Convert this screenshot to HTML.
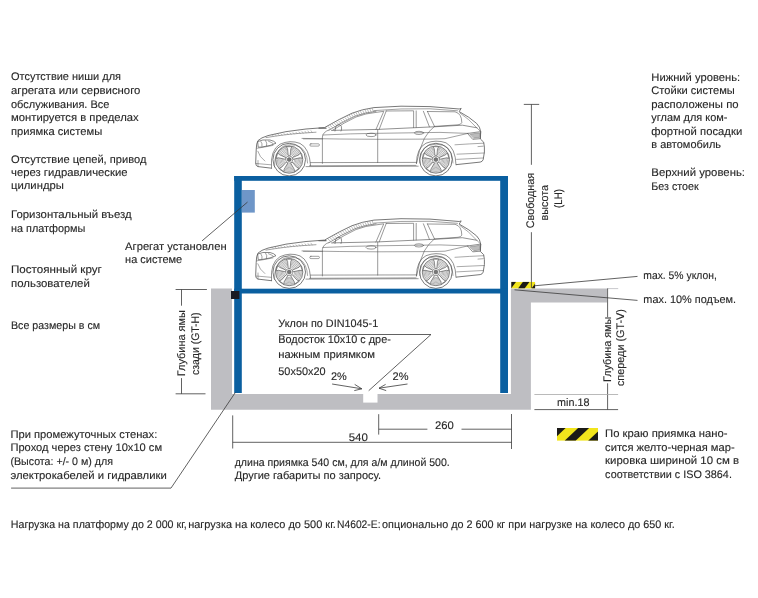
<!DOCTYPE html>
<html><head><meta charset="utf-8"><title>Parking system</title>
<style>
html,body{margin:0;padding:0;background:#fff;}
body{width:758px;height:598px;overflow:hidden;font-family:"Liberation Sans",sans-serif;}
svg{display:block;will-change:transform;} text{text-rendering:geometricPrecision;}
</style></head><body>
<svg width="758" height="598" viewBox="0 0 758 598">
<defs>
<g id="car"><g fill="none" stroke="#555" stroke-width="0.8" stroke-linejoin="round" stroke-linecap="round">
<path d="M271.5,168.2 L258,166.6 Q255.6,166 255.7,163 L256.2,150 Q256.3,143 258,140.6 Q261,137.6 268,135.6 Q285,131 306,129 L324.5,127.6 Q340,118.6 352,113.2 Q362,109.2 374,107.6 Q400,105.3 430,106.6 L459.2,109 L461.2,108.4 L459.2,111.6 Q469.5,117 476.6,123.4 Q480.2,127 480.7,131.6 L480.4,139 L483.7,142.2 Q484.7,147 484.4,152 L483.2,159.6 Q482.4,161.8 480.2,162.1 L456.4,164.6"/>
<path d="M374,110.6 Q400,108.2 430,108.8 L457.5,110.8" stroke-width="0.55"/>
<path d="M329,130.2 Q342,122 355,116.2 Q365,112.4 376,111.3" stroke-width="0.6"/>
<path d="M328.0,126.6 L330.7,128.9 M330.2,125.5 L332.8,127.8 M332.3,124.3 L334.8,126.7 M334.4,123.2 L336.9,125.6 M336.5,122.1 L338.9,124.5 M338.7,121.0 L341.0,123.4 M340.8,119.8 L343.0,122.3 M342.9,118.7 L345.1,121.2 M345.0,117.6 L347.1,120.1 M347.2,116.5 L349.1,119.0 M349.3,115.3 L351.2,117.9 M351.4,114.2 L353.2,116.8 M353.6,113.3 L355.3,115.8 M356.0,112.7 L357.6,115.3 M358.3,112.2 L359.9,114.8 M360.6,111.6 L362.1,114.3 M362.9,111.0 L364.4,113.7 M365.3,110.4 L366.7,113.2 M367.6,109.8 L368.9,112.7 M369.9,109.2 L371.2,112.2 M372.3,108.6 L373.4,111.6" stroke-width="0.45" stroke="#6a6a6a"/>
<path d="M333,130 Q344,122.6 356,117 Q366,113.2 376,112.4 L383.8,111.3 L375.9,129.6" stroke-width="0.6"/>
<path d="M386.2,111 L413.6,110.8 L413.6,127.6 M386.2,111 L379.2,129.4 M416.2,110.9 L416.2,127.4" stroke-width="0.6"/>
<path d="M423.4,111.3 L429.4,126.8 M427.4,111.4 L434.6,126.6" stroke-width="0.6"/>
<path d="M427.4,111.5 L455,111.8 Q461.8,113.5 461.8,122.6 Q461,124.6 458,124.8 L434.6,126.4" stroke-width="0.6"/>
<path d="M459.7,112.8 Q469,119 476,127 L480.4,131.4" stroke-width="0.5"/>
<path d="M331.5,130.4 L378,129.4 L434,126.8 L462.3,125.2 L477,127.8" stroke-width="0.65"/>
<path d="M323,135 Q350,133.6 378,133.3 L440,132.4 L467.9,133.4" stroke-width="0.55"/>
<path d="M302,138.4 Q340,139.2 378,139.3 L430,139.1 L445,138.7 L467.9,133.4" stroke-width="0.55"/>
<path d="M329.2,129.8 Q322.8,132 322.4,137 L322.4,163.4" stroke-width="0.6"/>
<path d="M377.7,129.6 L377.7,162.6" stroke-width="0.6"/>
<path d="M434,126.8 Q428.6,131 424.4,138.4 Q418.6,150 416.6,163" stroke-width="0.6"/>
<ellipse cx="371" cy="134.9" rx="5" ry="1.7" stroke-width="0.6"/>
<ellipse cx="419" cy="132.9" rx="4.6" ry="1.6" stroke-width="0.6"/>
<path d="M335,131 L335.8,126.6 Q337,124.6 340,124.8 Q341.8,125.4 341.6,129 L341,131" stroke-width="0.65"/>
<path d="M310.5,162.6 L416.5,162.4 M309.5,165.8 L416,165.4 M306,166.6 L418.2,166.2" stroke-width="0.6"/>
<path d="M303.5,138.9 L322.4,138.9" stroke-width="0.5"/>
<rect x="309.8" y="143.8" width="9.6" height="2.3" rx="1.1" stroke-width="0.55"/>
<path d="M258,141.4 Q262,139.2 270,140 Q274.5,141 276,143.2 Q271,145.8 262,147 L258.6,147.2 Z" stroke-width="0.7"/>
<path d="M261,141.6 Q262.6,143.5 262,146.2 M265.6,140.6 Q267.5,143 266.6,145.8 M268.5,141.2 Q272,142.5 273.2,143.6" stroke-width="0.55"/>
<path d="M266,137.6 Q285,134.4 300,133.3 L316,132.2" stroke-width="0.55"/>
<path d="M272.0,134.8 L273.2,135.9 M275.0,134.5 L276.2,135.6 M278.0,134.2 L279.2,135.4 M281.0,133.9 L282.2,135.1 M284.0,133.5 L285.2,134.8 M287.0,133.2 L288.2,134.5 M290.0,132.9 L291.2,134.3 M293.0,132.6 L294.2,134.0 M296.0,132.3 L297.2,133.7 M299.0,132.0 L300.2,133.5 M302.0,131.6 L303.2,133.2 M305.0,131.3 L306.2,132.9 M308.0,131.0 L309.2,132.7 M311.0,130.7 L312.2,132.4" stroke-width="0.45" stroke="#777"/>
<path d="M319,128.2 L326,128.2" stroke-width="1.2" stroke="#666"/>
<path d="M257,148.3 Q265,147 273,145.4 M257.8,151.3 Q259.5,157 264.8,161 M256,163.5 L271,164.8 M258,166.6 L258,160.5" stroke-width="0.5"/>
<path d="M467.9,133.4 L480.7,131.6 L480.2,138.7 L473.1,139.3 Z" stroke-width="0.65"/>
<path d="M470,134.2 L479.6,132.8 L479.4,137.6 L474,138.2 Z" stroke-width="0.4" fill="#bbb"/>
<path d="M455,144.8 Q470,143.8 483.6,143.2 M457,154.2 L484.2,153 M478,146.6 L483.2,146.2 M456.6,159.4 L483,158" stroke-width="0.5"/>
<path d="M271.5,168.2 Q270,150 280,144.2 Q290,139.6 300,143.4 Q309.4,148 310.6,165.6" stroke-width="0.65"/>
<path d="M274.5,167 Q274,152 283,146.4 Q291,143 299.5,146.6 Q307,151 307.6,163" stroke-width="0.5"/>
<path d="M416.4,163.6 Q416.6,148 426,143.2 Q436,139.3 446,142.8 Q455.6,148 456,164.8" stroke-width="0.65"/>
<path d="M419.6,163 Q420,150 428,145.6 Q436,142.6 444.6,145.6 Q452.6,150 453,163" stroke-width="0.5"/>
</g>
<defs>
<g id="wheel">
<circle r="16.3" stroke-width="0.8"/>
<circle r="13.6" stroke-width="0.75"/>
<circle r="12.9" stroke-width="0.4" stroke="#888"/>
<g stroke="#6a6a6a" stroke-width="0.5"><circle r="11.90"/><circle r="10.60"/><circle r="9.30"/><circle r="8.00"/><circle r="6.70"/><circle r="5.40"/></g>
<g fill="#fff" stroke-width="0.6">
<path id="spk" d="M-0.9,-3.6 L-1.6,-10.8 L-2.8,-12.9 L2.8,-12.9 L1.6,-10.8 L0.9,-3.6 Z"/>
<use href="#spk" transform="rotate(72)"/>
<use href="#spk" transform="rotate(144)"/>
<use href="#spk" transform="rotate(216)"/>
<use href="#spk" transform="rotate(288)"/>
</g>
<circle r="3.6" stroke-width="0.6" fill="#fff"/>
<circle r="2" stroke-width="0.5" fill="#777"/>
</g>
</defs>
<g fill="none" stroke="#555">
<use href="#wheel" transform="translate(289.2,159.6)"/>
<use href="#wheel" transform="translate(435.9,159.6)"/>
</g></g>
</defs>
<!-- gray pit -->
<path d="M211,288.6 H232 V394 H510.9 V288.6 H607 V302.6 H530.9 V409.7 H211 Z" fill="#bebec2"/>
<rect x="607" y="288.1" width="11.2" height="1" fill="#c8c8cc"/>
<rect x="363.2" y="393" width="14.3" height="9.6" fill="#fff"/>
<!-- cars -->
<use href="#car"/>
<use href="#car" transform="translate(0,112.5)"/>
<!-- blue frame -->
<g fill="#0a5fa0">
<rect x="234.2" y="176" width="273.8" height="4.8"/>
<rect x="234.2" y="176" width="7.6" height="217"/>
<rect x="500.2" y="176" width="7.8" height="217"/>
<rect x="234.2" y="288.7" width="273.8" height="4.8"/>
</g>
<rect x="242" y="190" width="12.8" height="22.6" fill="#6e96c8"/>
<rect x="231" y="291" width="8.4" height="8" fill="#1a1a22"/>
<!-- hazard stripes -->
<clipPath id="hz1"><rect x="511.3" y="281.8" width="23.80000000000001" height="6.800000000000011"/></clipPath><g clip-path="url(#hz1)"><rect x="511.3" y="281.8" width="23.80000000000001" height="6.800000000000011" fill="#f2e51c"/><polygon points="477.50,288.60 484.10,288.60 489.10,281.80 482.50,281.80" fill="#1b1a17"/><polygon points="491.00,288.60 497.60,288.60 502.60,281.80 496.00,281.80" fill="#1b1a17"/><polygon points="504.50,288.60 511.10,288.60 516.10,281.80 509.50,281.80" fill="#1b1a17"/><polygon points="518.00,288.60 524.60,288.60 529.60,281.80 523.00,281.80" fill="#1b1a17"/><polygon points="531.50,288.60 538.10,288.60 543.10,281.80 536.50,281.80" fill="#1b1a17"/></g>
<clipPath id="hz2"><rect x="557" y="428" width="41" height="12.800000000000011"/></clipPath><g clip-path="url(#hz2)"><rect x="557" y="428" width="41" height="12.800000000000011" fill="#f2e51c"/><polygon points="494.10,440.80 505.10,440.80 518.60,428.00 507.60,428.00" fill="#1b1a17"/><polygon points="517.60,440.80 528.60,440.80 542.10,428.00 531.10,428.00" fill="#1b1a17"/><polygon points="541.10,440.80 552.10,440.80 565.60,428.00 554.60,428.00" fill="#1b1a17"/><polygon points="564.60,440.80 575.60,440.80 589.10,428.00 578.10,428.00" fill="#1b1a17"/><polygon points="588.10,440.80 599.10,440.80 612.60,428.00 601.60,428.00" fill="#1b1a17"/></g>
<!-- lines -->
<g stroke="#3a3a3a" stroke-width="0.8" fill="none">
<!-- LH dimension -->
<path d="M523.8,104.4 H539.2 M531.4,104.4 V164.8 M531.4,232.2 V288"/>
<!-- GT-H -->
<path d="M175.6,289.5 H206.9 M175.6,393.8 H205.5 M181.5,289.5 V305.7 M181.5,378.1 V393.8"/>
<!-- GT-V -->
<path d="M607.6,288.5 V317.1 M607.6,383.3 V409.6 M534.4,409.6 H618.1"/>
<path d="M534.4,394.5 H618.1" stroke="#a8a8a8"/>
<!-- 540/260 dims -->
<path d="M232.7,415.4 V448.5 M511.5,414 V449 M232.7,442.3 H511.5 M378.7,414.2 V434.6 M378.7,429.2 H427.4 M461.5,429.2 H511.5"/>
<!-- leaders -->
<path d="M534.3,285.8 L637.5,276.4 M514.5,289.8 L637.5,300.4"/>
<path d="M202,240.9 L247.5,202.1"/>
<path d="M11.1,488.1 H171 L235.4,392.4"/>
<path d="M279,334.5 H431 L368.7,390.7"/>
<!-- 2% arrows -->
<path d="M332.1,384 L361.8,388.8 M354.7,384.4 L361.8,388.8 L354.3,390.6 M407.5,384 L379,388.2 M385.6,384.4 L379,388.2 L386.2,390.6"/>
</g>
<!-- text -->
<g font-family="'Liberation Sans', sans-serif" fill="#272727" stroke="#272727" stroke-width="0.12">
<text x="11.0" y="79.9" textLength="110.0" lengthAdjust="spacingAndGlyphs" font-size="11.0">Отсутствие ниши для</text>
<text x="11.0" y="93.7" textLength="129.4" lengthAdjust="spacingAndGlyphs" font-size="11.0">агрегата или сервисного</text>
<text x="11.0" y="107.6" textLength="98.4" lengthAdjust="spacingAndGlyphs" font-size="11.0">обслуживания. Все</text>
<text x="11.0" y="121.4" textLength="127.7" lengthAdjust="spacingAndGlyphs" font-size="11.0">монтируется в пределах</text>
<text x="11.0" y="135.3" textLength="91.2" lengthAdjust="spacingAndGlyphs" font-size="11.0">приямка системы</text>
<text x="11.0" y="162.6" textLength="135.4" lengthAdjust="spacingAndGlyphs" font-size="11.0">Отсутствие цепей, привод</text>
<text x="11.0" y="176.0" textLength="116.6" lengthAdjust="spacingAndGlyphs" font-size="11.0">через гидравлические</text>
<text x="11.0" y="189.3" textLength="52.9" lengthAdjust="spacingAndGlyphs" font-size="11.0">цилиндры</text>
<text x="11.0" y="217.8" textLength="120.7" lengthAdjust="spacingAndGlyphs" font-size="11.0">Горизонтальный въезд</text>
<text x="11.0" y="232.0" textLength="74.4" lengthAdjust="spacingAndGlyphs" font-size="11.0">на платформы</text>
<text x="11.0" y="272.9" textLength="90.8" lengthAdjust="spacingAndGlyphs" font-size="11.0">Постоянный круг</text>
<text x="11.0" y="286.7" textLength="78.8" lengthAdjust="spacingAndGlyphs" font-size="11.0">пользователей</text>
<text x="11.0" y="328.9" textLength="89.1" lengthAdjust="spacingAndGlyphs" font-size="11.0">Все размеры в см</text>
<text x="651.3" y="80.8" textLength="88.8" lengthAdjust="spacingAndGlyphs" font-size="11.0">Нижний уровень:</text>
<text x="651.3" y="94.3" textLength="83.5" lengthAdjust="spacingAndGlyphs" font-size="11.0">Стойки системы</text>
<text x="651.3" y="107.6" textLength="87.3" lengthAdjust="spacingAndGlyphs" font-size="11.0">расположены по</text>
<text x="651.3" y="121.0" textLength="76.1" lengthAdjust="spacingAndGlyphs" font-size="11.0">углам для ком-</text>
<text x="651.3" y="134.8" textLength="90.9" lengthAdjust="spacingAndGlyphs" font-size="11.0">фортной посадки</text>
<text x="651.3" y="148.3" textLength="69.7" lengthAdjust="spacingAndGlyphs" font-size="11.0">в автомобиль</text>
<text x="651.3" y="176.2" textLength="93.7" lengthAdjust="spacingAndGlyphs" font-size="11.0">Верхний уровень:</text>
<text x="651.3" y="189.7" textLength="47.4" lengthAdjust="spacingAndGlyphs" font-size="11.0">Без стоек</text>
<text x="125.1" y="249.8" textLength="101.5" lengthAdjust="spacingAndGlyphs" font-size="11.0">Агрегат установлен</text>
<text x="125.1" y="262.8" textLength="57.1" lengthAdjust="spacingAndGlyphs" font-size="11.0">на системе</text>
<text x="278.3" y="326.7" textLength="99.9" lengthAdjust="spacingAndGlyphs" font-size="11.0">Уклон по DIN1045-1</text>
<text x="278.3" y="342.7" textLength="112.5" lengthAdjust="spacingAndGlyphs" font-size="11.0">Водосток 10x10 с дре-</text>
<text x="278.3" y="358.3" textLength="96.6" lengthAdjust="spacingAndGlyphs" font-size="11.0">нажным приямком</text>
<text x="278.3" y="374.6" textLength="47.3" lengthAdjust="spacingAndGlyphs" font-size="11.0">50x50x20</text>
<text x="331.0" y="380.2" textLength="15.8" lengthAdjust="spacingAndGlyphs" font-size="11.0">2%</text>
<text x="392.6" y="380.2" textLength="15.9" lengthAdjust="spacingAndGlyphs" font-size="11.0">2%</text>
<text x="348.7" y="440.9" textLength="19.2" lengthAdjust="spacingAndGlyphs" font-size="11.0">540</text>
<text x="435.0" y="428.9" textLength="18.8" lengthAdjust="spacingAndGlyphs" font-size="11.0">260</text>
<text x="557.1" y="405.8" textLength="32.4" lengthAdjust="spacingAndGlyphs" font-size="11.0">min.18</text>
<text x="643.3" y="278.5" textLength="73.5" lengthAdjust="spacingAndGlyphs" font-size="11.0">max. 5% уклон,</text>
<text x="643.3" y="303.1" textLength="92.8" lengthAdjust="spacingAndGlyphs" font-size="11.0">max. 10% подъем.</text>
<text x="10.4" y="437.9" textLength="146.9" lengthAdjust="spacingAndGlyphs" font-size="11.0">При промежуточных стенах:</text>
<text x="10.4" y="451.4" textLength="151.7" lengthAdjust="spacingAndGlyphs" font-size="11.0">Проход через стену 10x10 см</text>
<text x="10.4" y="465.0" textLength="102.6" lengthAdjust="spacingAndGlyphs" font-size="11.0">(Высота: +/- 0 м) для</text>
<text x="10.4" y="478.6" textLength="156.4" lengthAdjust="spacingAndGlyphs" font-size="11.0">электрокабелей и гидравлики</text>
<text x="234.7" y="465.7" textLength="215.1" lengthAdjust="spacingAndGlyphs" font-size="11.0">длина приямка 540 см, для а/м длиной 500.</text>
<text x="234.7" y="478.6" textLength="146.4" lengthAdjust="spacingAndGlyphs" font-size="11.0">Другие габариты по запросу.</text>
<text x="605.1" y="437.0" textLength="122.5" lengthAdjust="spacingAndGlyphs" font-size="11.0">По краю приямка нано-</text>
<text x="605.1" y="450.6" textLength="129.5" lengthAdjust="spacingAndGlyphs" font-size="11.0">сится желто-черная мар-</text>
<text x="605.1" y="464.0" textLength="133.9" lengthAdjust="spacingAndGlyphs" font-size="11.0">кировка шириной 10 см в</text>
<text x="605.1" y="477.5" textLength="126.8" lengthAdjust="spacingAndGlyphs" font-size="11.0">соответствии с ISO 3864.</text>
<text x="10.8" y="528.2" textLength="175.9" lengthAdjust="spacingAndGlyphs" font-size="11.0">Нагрузка на платформу до 2 000 кг,</text>
<text x="188.2" y="528.2" textLength="147.7" lengthAdjust="spacingAndGlyphs" font-size="11.0">нагрузка на колесо до 500 кг.</text>
<text x="337.0" y="528.2" textLength="43.5" lengthAdjust="spacingAndGlyphs" font-size="11.0">N4602-E:</text>
<text x="382.1" y="528.2" textLength="292.6" lengthAdjust="spacingAndGlyphs" font-size="11.0">опционально до 2 600 кг при нагрузке на колесо до 650 кг.</text>
</g>
<!-- rotated texts -->
<g font-family="'Liberation Sans', sans-serif" fill="#272727" stroke="#272727" stroke-width="0.12" font-size="11.0" text-anchor="middle">
<text transform="translate(534.3,200.55) rotate(-90)" textLength="55.3" lengthAdjust="spacingAndGlyphs">Свободная</text>
<text transform="translate(547.5,202.7) rotate(-90)" textLength="35.6" lengthAdjust="spacingAndGlyphs">высота</text>
<text transform="translate(561.9,198.55) rotate(-90)" textLength="18.8" lengthAdjust="spacingAndGlyphs">(LH)</text>
<text transform="translate(184.6,343.2) rotate(-90)" textLength="66" lengthAdjust="spacingAndGlyphs">Глубина ямы</text>
<text transform="translate(198.5,343.7) rotate(-90)" textLength="62.6" lengthAdjust="spacingAndGlyphs">сзади (GT-H)</text>
<text transform="translate(610.6,349.45) rotate(-90)" textLength="65.3" lengthAdjust="spacingAndGlyphs">Глубина ямы</text>
<text transform="translate(624.2,347.55) rotate(-90)" textLength="77" lengthAdjust="spacingAndGlyphs">спереди (GT-V)</text>
</g>
</svg>
</body></html>
